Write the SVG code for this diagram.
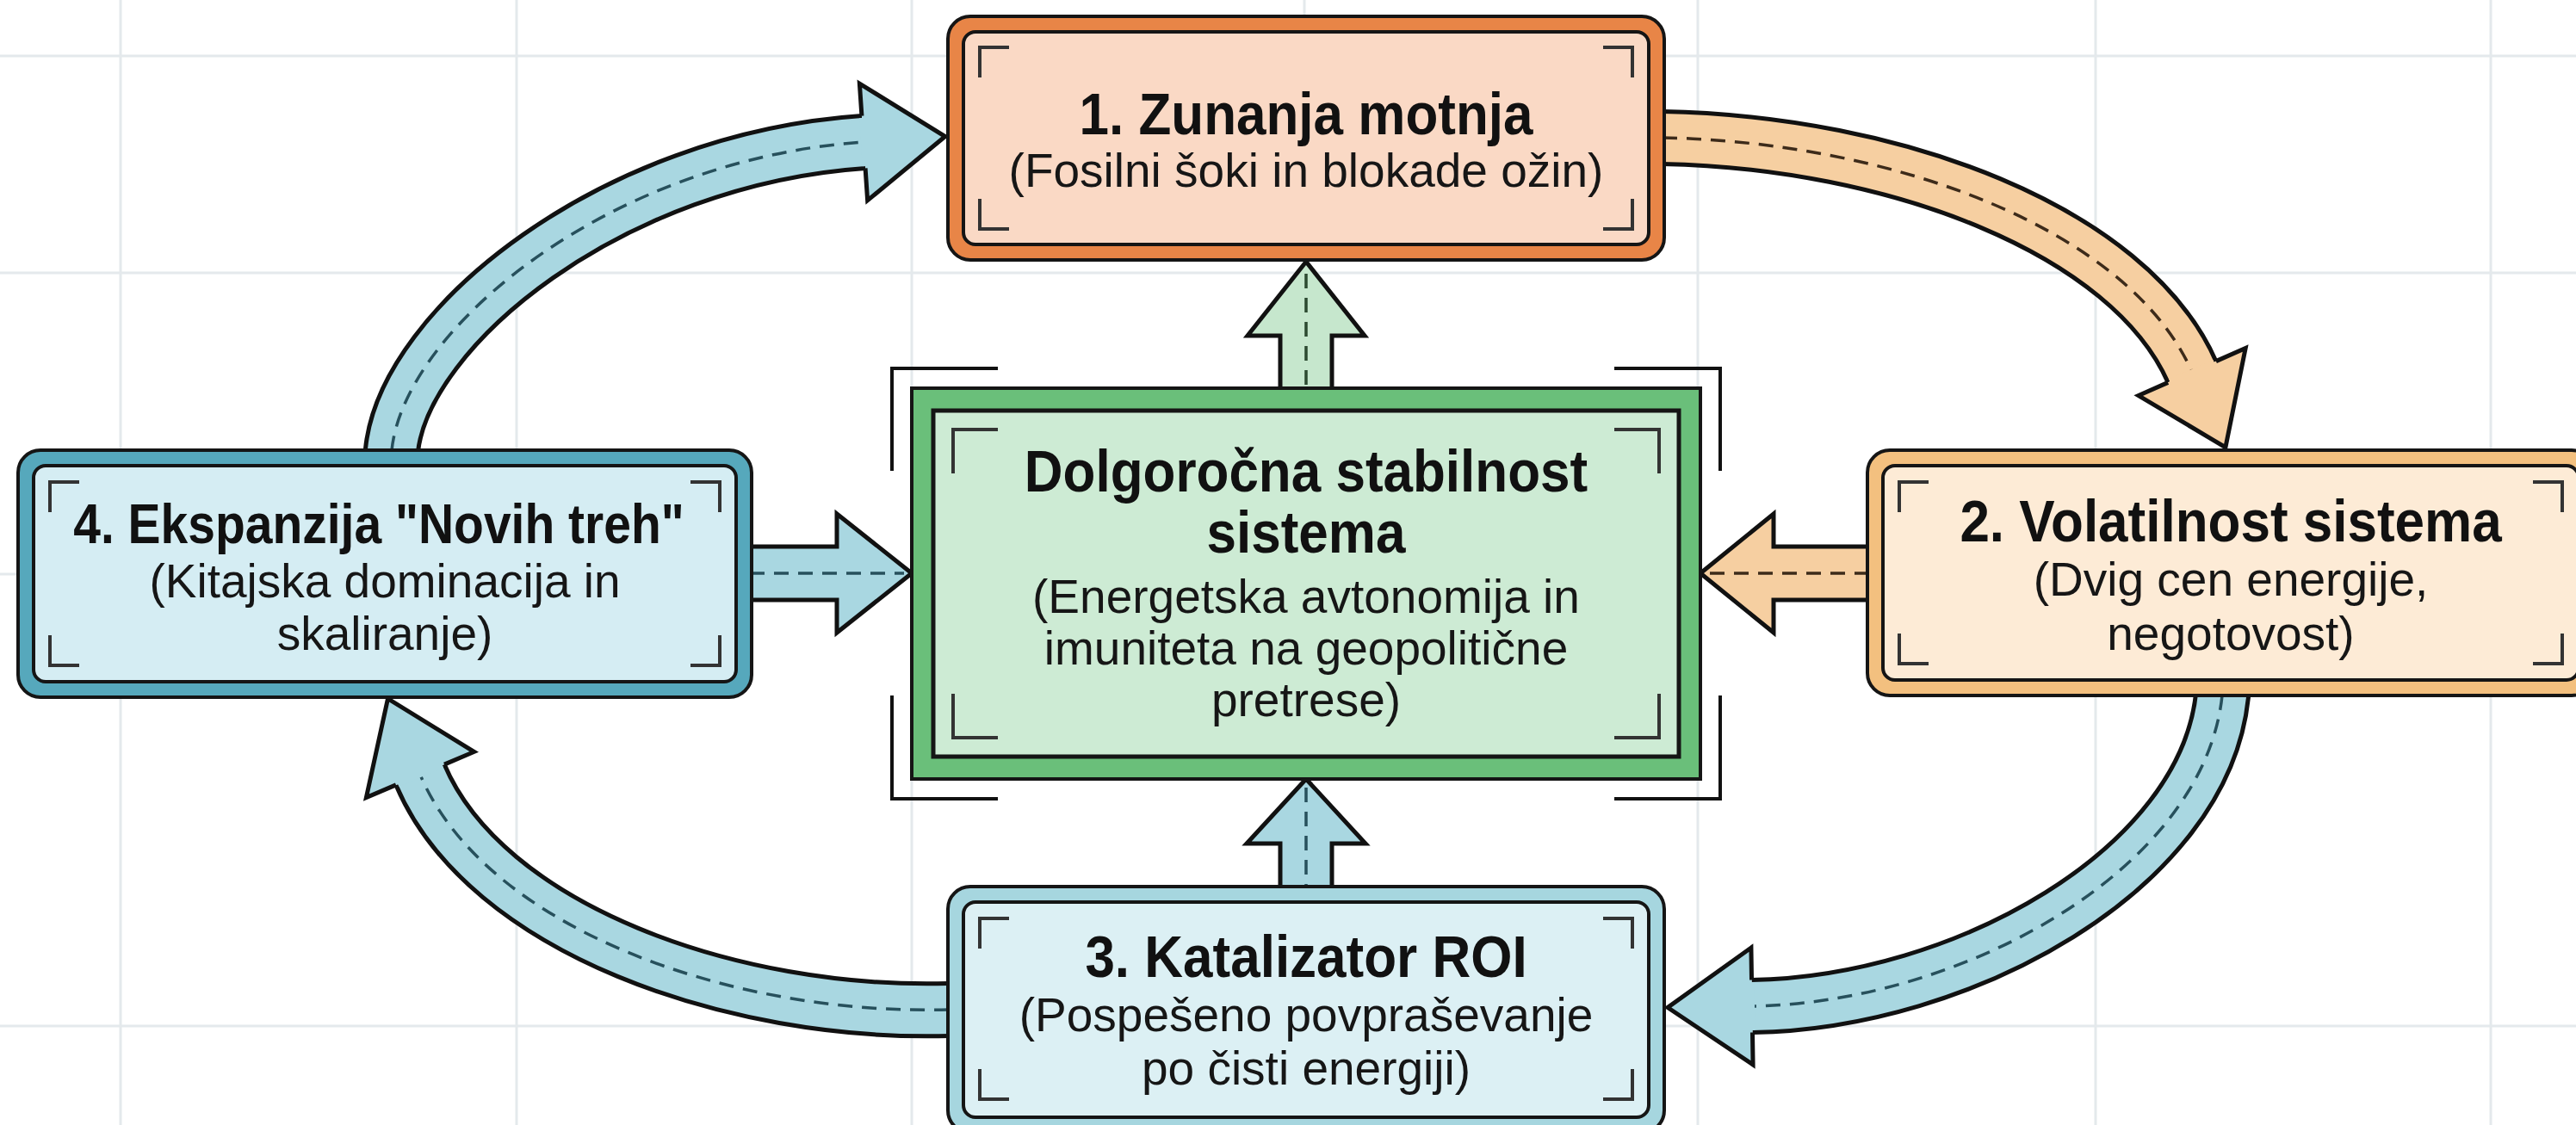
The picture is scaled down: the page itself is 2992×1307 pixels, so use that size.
<svg xmlns="http://www.w3.org/2000/svg" width="2992" height="1307" viewBox="0 0 2992 1307">
<style>
.grid{stroke:#E4E9EC;stroke-width:3;fill:none}
.ol{stroke:#151515;stroke-width:4}
.so{fill:none;stroke:#111;stroke-width:66}
.si{fill:none;stroke-width:56}
.dash{fill:none;stroke-width:3.5;stroke-dasharray:17 11}
.hl{fill:none;stroke:#111;stroke-width:5;stroke-linejoin:miter}
.ah{stroke:#111;stroke-width:5;stroke-linejoin:miter}
.br{fill:none;stroke:#333;stroke-width:4}
.obr{fill:none;stroke:#111;stroke-width:4}
.t{font-family:"Liberation Sans",Arial,sans-serif;font-weight:bold;font-size:62px;fill:#111;text-anchor:middle}
.s{font-family:"Liberation Sans",Arial,sans-serif;font-size:55px;fill:#161616;text-anchor:middle}
</style>
<rect width="2992" height="1307" fill="#ffffff"/>
<g id="grid">
<path class="grid" d="M140,0V1307M600,0V1307M1059,0V1307M1515,0V1307M1972,0V1307M2434,0V1307M2893,0V1307M0,65H2992M0,317H2992M0,667H2992M0,1192H2992"/>
</g>
<g id="connectors">
<g id="c41">
<path class="so" d="M453,545 L455,523 C470,380 710,185 1003,165"/>
<path class="si" stroke="#A9D7E1" d="M453,545 L455,523 C470,380 710,185 1003,165"/>
<path class="dash" stroke="#27505C" d="M455,523 C470,380 710,185 1003,165"/>
<g transform="translate(1003,165) rotate(-3.9)">
<polygon fill="#A9D7E1" points="-3,-28 0,-28 0,-68 95,0 0,68 0,28 -3,28"/>
<polyline class="hl" points="0,-30.5 0,-68 95,0 0,68 0,30.5"/>
</g>
</g>
<g id="c12">
<path class="so" d="M1915,160 L1931,160 C2200,165 2473,267 2546,432"/>
<path class="si" stroke="#F6CFA1" d="M1915,160 L1931,160 C2200,165 2473,267 2546,432"/>
<path class="dash" stroke="#3D2B1A" d="M1931,160 C2200,165 2473,267 2546,432"/>
<g transform="translate(2546,432) rotate(66.1)">
<polygon fill="#F6CFA1" points="-3,-28 0,-28 0,-68 96,0 0,68 0,28 -3,28"/>
<polyline class="hl" points="0,-30.5 0,-68 96,0 0,68 0,30.5"/>
</g>
</g>
<g id="c23">
<path class="so" d="M2581,790 L2581,808 C2560,1010 2280,1165 2035,1169"/>
<path class="si" stroke="#A9D7E1" d="M2581,790 L2581,808 C2560,1010 2280,1165 2035,1169"/>
<path class="dash" stroke="#27505C" d="M2581,808 C2560,1010 2280,1165 2035,1169"/>
<g transform="translate(2035,1169) rotate(179.1)">
<polygon fill="#A9D7E1" points="-3,-28 0,-28 0,-68 98,0 0,68 0,28 -3,28"/>
<polyline class="hl" points="0,-30.5 0,-68 98,0 0,68 0,30.5"/>
</g>
</g>
<g id="c34">
<path class="so" d="M1120,1173 L1102,1173 C850,1180 564,1079 488,900"/>
<path class="si" stroke="#A9D7E1" d="M1120,1173 L1102,1173 C850,1180 564,1079 488,900"/>
<path class="dash" stroke="#27505C" d="M1102,1173 C850,1180 564,1079 488,900"/>
<g transform="translate(488,900) rotate(-113)">
<polygon fill="#A9D7E1" points="-3,-28 0,-28 0,-68 96,0 0,68 0,28 -3,28"/>
<polyline class="hl" points="0,-30.5 0,-68 96,0 0,68 0,30.5"/>
</g>
</g>
<g id="cC1">
<polygon class="ah" fill="#C6E7CD" points="1487,455 1487,390 1449,390 1517,304 1585,390 1547,390 1547,455"/>
<path class="dash" stroke="#2C4A30" d="M1517,318 V452"/>
</g>
<g id="c3C">
<polygon class="ah" fill="#A9D7E1" points="1487,1034 1487,980 1448,980 1517,905 1586,980 1547,980 1547,1034"/>
<path class="dash" stroke="#27505C" d="M1517,915 V1032"/>
</g>
<g id="c4C">
<polygon class="ah" fill="#A9D7E1" points="869,635 972,635 972,597 1059,666 972,735 972,697 869,697"/>
<path class="dash" stroke="#27505C" d="M871,666 H1050"/>
</g>
<g id="c2C">
<polygon class="ah" fill="#F6CFA1" points="2173,635 2060,635 2060,597 1975,666 2060,735 2060,697 2173,697"/>
<path class="dash" stroke="#3D2B1A" d="M2171,666 H1985"/>
</g>
</g>
<g id="node1">
<rect class="ol" x="1101" y="19" width="832" height="283" rx="26" fill="#E88547"/>
<rect class="ol" x="1119" y="37" width="796" height="247" rx="14" fill="#FAD9C5"/>
<path class="br" d="M1138,90V55H1172M1862,55H1896V90M1138,231V266H1172M1862,266H1896V231"/>
<text class="t" transform="translate(1517,156) scale(1,1.1)">1. Zunanja motnja</text>
<text class="s" x="1517" y="217">(Fosilni šoki in blokade ožin)</text>
</g>
<g id="node2">
<rect class="ol" x="2169" y="523" width="844" height="285" rx="26" fill="#F3C07F"/>
<rect class="ol" x="2187" y="541" width="808" height="249" rx="14" fill="#FDEBD6"/>
<path class="br" d="M2206,595V560H2240M2942,560H2976V595M2206,736V771H2240M2942,771H2976V736"/>
<text class="t" transform="translate(2591,629) scale(1,1.1)">2. Volatilnost sistema</text>
<text class="s" x="2591" y="692">(Dvig cen energije,</text>
<text class="s" x="2591" y="755">negotovost)</text>
</g>
<g id="node3">
<rect class="ol" x="1101" y="1030" width="832" height="286" rx="26" fill="#A6D6DF"/>
<rect class="ol" x="1119" y="1048" width="796" height="250" rx="14" fill="#DCF0F4"/>
<path class="br" d="M1138,1102V1067H1172M1862,1067H1896V1102M1138,1242V1277H1172M1862,1277H1896V1242"/>
<text class="t" transform="translate(1517,1135) scale(1,1.1)">3. Katalizator ROI</text>
<text class="s" x="1517" y="1198">(Pospešeno povpraševanje</text>
<text class="s" x="1517" y="1260">po čisti energiji)</text>
</g>
<g id="node4">
<rect class="ol" x="21" y="523" width="852" height="287" rx="26" fill="#56A8BC"/>
<rect class="ol" x="39" y="541" width="816" height="251" rx="14" fill="#D5EDF3"/>
<path class="br" d="M58,595V560H92M802,560H836V595M58,738V773H92M802,773H836V738"/>
<text class="t" transform="translate(440,631) scale(1,1.15)" style="font-size:57px">4. Ekspanzija "Novih treh"</text>
<text class="s" x="447" y="694">(Kitajska dominacija in</text>
<text class="s" x="447" y="755">skaliranje)</text>
</g>
<g id="center">
<path class="obr" d="M1036,547V428H1159M1875,428H1998V547M1036,808V928H1159M1875,928H1998V808"/>
<rect class="ol" x="1059" y="451" width="916" height="454" fill="#6ABF7A"/>
<rect x="1084" y="477" width="866" height="402" fill="#CDEBD4" stroke="#151515" stroke-width="5"/>
<path class="br" d="M1107,550V499H1159M1875,499H1927V550M1107,806V857H1159M1875,857H1927V806"/>
<text class="t" transform="translate(1517,571) scale(1,1.1)">Dolgoročna stabilnost</text>
<text class="t" transform="translate(1517,642) scale(1,1.1)">sistema</text>
<text class="s" x="1517" y="712">(Energetska avtonomija in</text>
<text class="s" x="1517" y="772">imuniteta na geopolitične</text>
<text class="s" x="1517" y="832">pretrese)</text>
</g>
</svg>
